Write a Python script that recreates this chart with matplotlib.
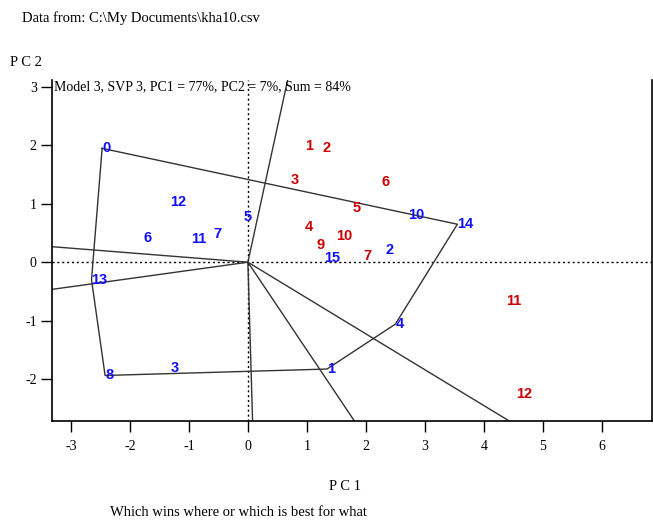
import numpy as np
import matplotlib.pyplot as plt

plt.rcParams['axes.unicode_minus'] = False

# genotype scores (blue) - label text, PC1, PC2
gen_labels = ['0', '12', '6', '11', '7', '5', '13', '15', '2', '10', '14', '8', '3', '1', '4']
gen_pc1 = [-2.47, -1.32, -1.77, -0.96, -0.58, -0.08, -2.65, 1.30, 2.33, 2.71, 3.55, -2.42, -1.31, 1.34, 2.50]
gen_pc2 = [1.95, 1.03, 0.42, 0.40, 0.49, 0.77, -0.30, 0.07, 0.21, 0.80, 0.65, -1.94, -1.81, -1.83, -1.06]

# environment scores (red)
env_labels = ['1', '2', '3', '6', '5', '4', '10', '9', '7', '11', '12']
env_pc1 = [0.97, 1.26, 0.73, 2.26, 1.77, 0.97, 1.50, 1.16, 1.96, 4.38, 4.55]
env_pc2 = [1.99, 1.96, 1.41, 1.37, 0.92, 0.60, 0.45, 0.30, 0.11, -0.66, -2.25]

# polygon vertices (genotype labels, in order)
hull = ['0', '14', '4', '1', '8', '13']

xlim = (-3.32, 6.85)
ylim = (-2.72, 3.12)

fig = plt.figure(figsize=(6.53, 5.23), dpi=100)
ax = fig.add_axes([0.0796, 0.195, 0.919, 0.652])

serif = 'Liberation Serif'
sans = 'Liberation Sans'

ax.axhline(0, color='black', lw=1, ls=(0, (1.5, 2)))
ax.axvline(0, color='black', lw=1, ls=(0, (1.5, 2)))

idx = {g: i for i, g in enumerate(gen_labels)}
hx = [gen_pc1[idx[g]] for g in hull] + [gen_pc1[idx[hull[0]]]]
hy = [gen_pc2[idx[g]] for g in hull] + [gen_pc2[idx[hull[0]]]]
ax.plot(hx, hy, color='#333333', lw=1)

# rays from origin, perpendicular to each polygon side
for i in range(len(hull)):
    p = np.array([hx[i], hy[i]])
    q = np.array([hx[i + 1], hy[i + 1]])
    d = q - p
    foot = p - d * np.dot(p, d) / np.dot(d, d)
    end = foot / np.linalg.norm(foot) * 20
    ax.plot([0, end[0]], [0, end[1]], color='#333333', lw=1)

for lab, x, y in zip(gen_labels, gen_pc1, gen_pc2):
    ax.text(x, y, lab, color='#1010ff', fontsize=10.5, fontweight='bold',
            family=sans, ha='left', va='center')
for lab, x, y in zip(env_labels, env_pc1, env_pc2):
    ax.text(x, y, lab, color='#cc0000', fontsize=10.5, fontweight='bold',
            family=sans, ha='left', va='center')

ax.text(0.003, 3.0, 'Model 3, SVP 3, PC1 = 77%, PC2 = 7%, Sum = 84%',
        transform=ax.get_yaxis_transform(), family=serif, fontsize=10,
        ha='left', va='center')

ax.set_xlim(xlim)
ax.set_ylim(ylim)
ax.set_xticks(range(-3, 7))
ax.set_yticks(range(-2, 4))
ax.spines['top'].set_visible(False)
for s in ['left', 'bottom', 'right']:
    ax.spines[s].set_linewidth(1.2)
ax.tick_params(direction='out', length=8, width=1, labelsize=10)
ax.tick_params(axis='x', pad=6)
ax.tick_params(axis='y', pad=3)
for t in ax.get_xticklabels() + ax.get_yticklabels():
    t.set_family(serif)

fig.text(22 / 653, 1 - 18 / 523, 'Data from: C:\\My Documents\\kha10.csv',
         family=serif, fontsize=10.5, ha='left', va='center')
fig.text(10 / 653, 1 - 62 / 523, 'P C 2', family=serif, fontsize=10.5,
         ha='left', va='center')
fig.text(345 / 653, 1 - 486 / 523, 'P C 1', family=serif, fontsize=10.5,
         ha='center', va='center')
fig.text(110 / 653, 1 - 513 / 523, 'Which wins where or which is best for what',
         family=serif, fontsize=10.5, ha='left', va='center')

plt.savefig('out.png', dpi=100)
